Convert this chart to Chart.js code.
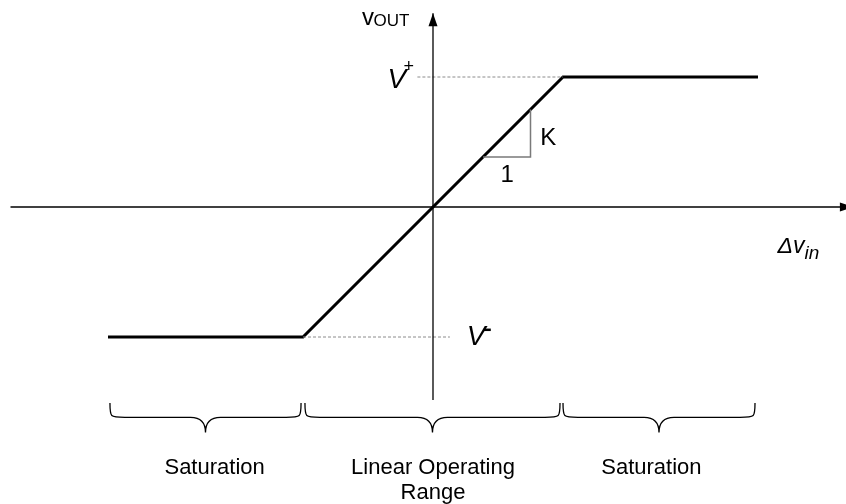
<!DOCTYPE html>
<html>
<head>
<meta charset="utf-8">
<script src="https://cdn.jsdelivr.net/npm/chart.js@4.4.1/dist/chart.umd.min.js"></script>
<style>
  html, body { margin: 0; padding: 0; background: #fff; }
</style>
</head>
<body>
<canvas id="transfer-chart" width="846" height="504"></canvas>
<script>
// transfer curve: x = Δv_in, y = v_OUT (breakpoints at ±1, slope K)
const curveX = [-2.5, -1, 1, 2.5];
const curveY = [-1, -1, 1, 1];

// V+ / V- guide lines
const vPlusX = [-0.12, 1];
const vPlusY = [1, 1];
const vMinusX = [-1, 0.13];
const vMinusY = [-1, -1];

// slope triangle (1 across, K up)
const slopeX = [0.385, 0.75, 0.75];
const slopeY = [0.385, 0.385, 0.75];

// axes
const axisHX = [-3.25, 3.23];
const axisHY = [0, 0];
const axisVX = [0, 0];
const axisVY = [-1.485, 1.49];

// regions marked with braces under the curve
const regionNames = [['Saturation'], ['Linear Operating', 'Range'], ['Saturation']];
const regionFrom = [-2.485, -0.985, 1.0];
const regionTo = [-1.015, 0.977, 2.477];
const regionTextX = [-1.68, 0, 1.68];

const UNIT = 130; // px per unit
const FONT = '"Liberation Sans", Arial, sans-serif';

const pts = (xs, ys) => xs.map((x, i) => ({ x: x, y: ys[i] }));

const lineSet = (data, color, width, dash) => ({
  data: data,
  showLine: true,
  borderColor: color,
  borderWidth: width,
  borderDash: dash || [],
  pointRadius: 0,
  fill: false,
  borderJoinStyle: 'miter',
  borderCapStyle: 'butt'
});

// arrows, braces and text
const annotations = {
  id: 'annotations',
  afterDatasetsDraw(chart) {
    const ctx = chart.ctx;
    const sx = chart.scales.x;
    const sy = chart.scales.y;
    const px = v => sx.getPixelForValue(v);
    const py = v => sy.getPixelForValue(v);

    ctx.save();
    ctx.fillStyle = '#000';

    // arrow heads
    const tx = px(axisHX[1]), ty = py(0);
    ctx.beginPath();
    ctx.moveTo(tx, ty);
    ctx.lineTo(tx - 13, ty - 4.5);
    ctx.lineTo(tx - 13, ty + 4.5);
    ctx.closePath();
    ctx.fill();

    const ux = px(0), uy = py(axisVY[1]);
    ctx.beginPath();
    ctx.moveTo(ux, uy);
    ctx.lineTo(ux - 4.5, uy + 13);
    ctx.lineTo(ux + 4.5, uy + 13);
    ctx.closePath();
    ctx.fill();

    // braces
    const top = py(-1.508), mid = py(-1.618), tip = py(-1.735);
    const r = 15;
    ctx.strokeStyle = '#000';
    ctx.lineWidth = 1.3;
    regionFrom.forEach((from, i) => {
      const x0 = px(from), x1 = px(regionTo[i]), xm = (x0 + x1) / 2;
      ctx.beginPath();
      ctx.moveTo(x0, top);
      ctx.bezierCurveTo(x0, mid, x0, mid, x0 + r, mid);
      ctx.lineTo(xm - r, mid);
      ctx.quadraticCurveTo(xm, mid, xm, tip);
      ctx.quadraticCurveTo(xm, mid, xm + r, mid);
      ctx.lineTo(x1 - r, mid);
      ctx.bezierCurveTo(x1, mid, x1, mid, x1, top);
      ctx.stroke();
    });

    const text = (str, x, y, font, align) => {
      ctx.font = font;
      ctx.textAlign = align || 'left';
      ctx.textBaseline = 'alphabetic';
      ctx.fillText(str, x, y);
    };

    // region names
    regionNames.forEach((lines, i) => {
      lines.forEach((s, j) => {
        text(s, px(regionTextX[i]), py(-2.05) + j * 25, '22px ' + FONT, 'center');
      });
    });

    // v_OUT axis label
    text('v', px(-0.546), py(1.4), '24px ' + FONT);
    text('OUT', px(-0.546) + 11.5, py(1.39), '17px ' + FONT);

    // Δv_in axis label
    text('\u0394v', px(2.65), py(-0.354), 'italic 23px ' + FONT);
    text('in', px(2.65) + 27, py(-0.4), 'italic 19px ' + FONT);

    // V+ and V- levels
    text('V', px(-0.35), py(0.915), 'italic 28px ' + FONT);
    text('+', px(-0.35) + 16, py(1.04), '18px ' + FONT);
    text('V', px(0.26), py(-1.06), 'italic 28px ' + FONT);
    ctx.fillRect(px(0.26) + 17, py(-0.935), 7, 2.5);

    // slope labels
    text('K', px(0.825), py(0.477), '24px ' + FONT);
    text('1', px(0.57), py(0.192), '24px ' + FONT, 'center');

    ctx.restore();
  }
};

const ctxTransfer = document.getElementById('transfer-chart');

new Chart(ctxTransfer, {
  type: 'scatter',
  data: {
    datasets: [
      lineSet(pts(axisHX, axisHY), '#000', 1.3),
      lineSet(pts(axisVX, axisVY), '#000', 1.3),
      lineSet(pts(vPlusX, vPlusY), '#8c8c8c', 1, [3, 2]),
      lineSet(pts(vMinusX, vMinusY), '#8c8c8c', 1, [3, 2]),
      lineSet(pts(slopeX, slopeY), '#7a7a7a', 1.5),
      lineSet(pts(curveX, curveY), '#000', 3)
    ]
  },
  options: {
    responsive: false,
    devicePixelRatio: 1,
    animation: false,
    layout: { padding: 0 },
    plugins: {
      legend: { display: false },
      tooltip: { enabled: false }
    },
    scales: {
      x: {
        display: false,
        min: -433 / UNIT,
        max: 413 / UNIT
      },
      y: {
        display: false,
        min: -297 / UNIT,
        max: 207 / UNIT
      }
    }
  },
  plugins: [annotations]
});
</script>
</body>
</html>
